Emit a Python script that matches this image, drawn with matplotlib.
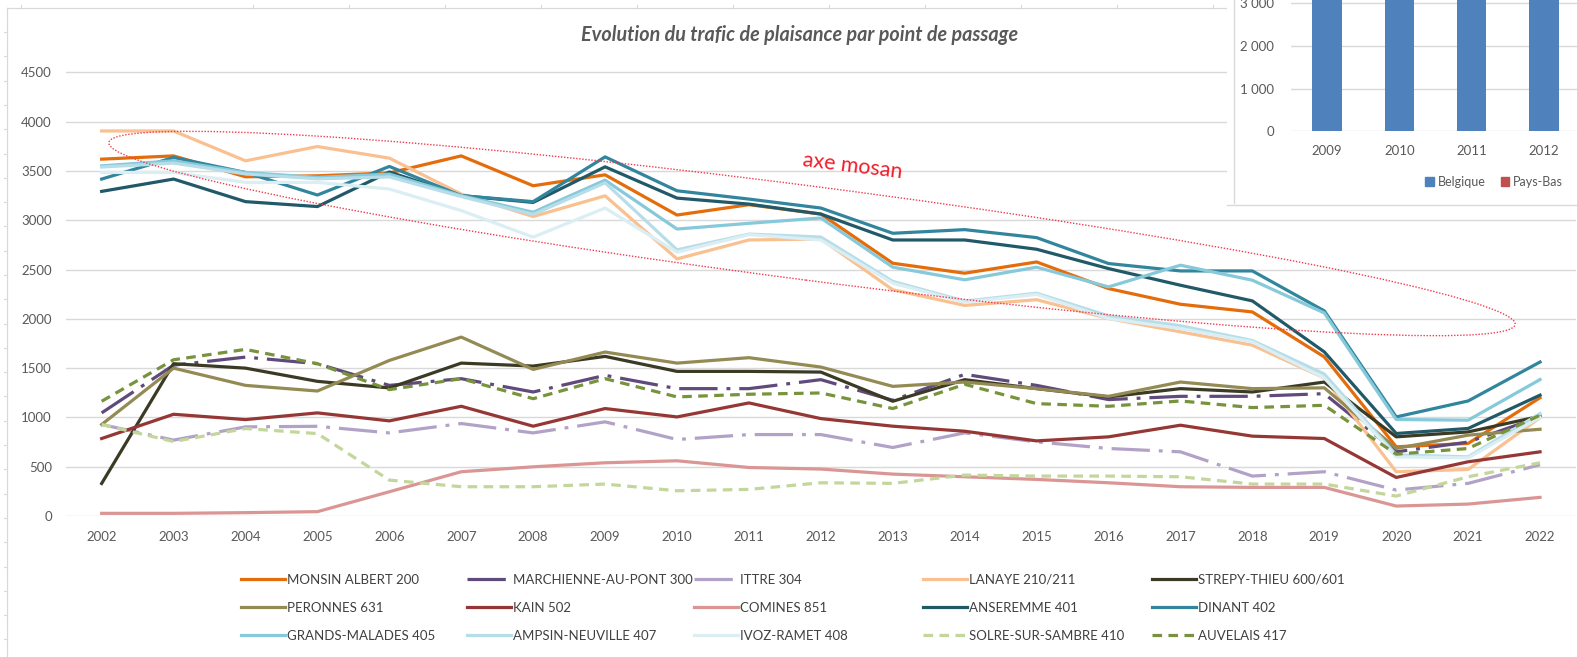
import matplotlib
matplotlib.use('Agg')
import matplotlib.pyplot as plt
from matplotlib.patches import Ellipse, Rectangle, Patch
from matplotlib.lines import Line2D
from matplotlib.transforms import IdentityTransform
import numpy as np

plt.rcParams['font.family'] = ['Lato', 'DejaVu Sans']

# ---------------- data ----------------
years = list(range(2002, 2023))

monsin_albert = [3620, 3653, 3441, 3451, 3480, 3653, 3350, 3461, 3053, 3158, 3063,
                 2564, 2463, 2577, 2307, 2148, 2070, 1614, 702, 736, 1200]
marchienne = [1046, 1530, 1612, 1545, 1325, 1393, 1258, 1427, 1292, 1292, 1383,
              1174, 1437, 1325, 1181, 1214, 1214, 1241, 651, 750, 1005]
ittre = [928, 770, 904, 910, 843, 938, 843, 955, 776, 826, 826,
         695, 843, 752, 685, 651, 405, 449, 263, 331, 520]
lanaye = [3906, 3906, 3603, 3748, 3630, 3266, 3038, 3248, 2608, 2800, 2810,
          2295, 2136, 2194, 2003, 1868, 1733, 1400, 449, 472, 998]
strepy_thieu = [330, 1545, 1500, 1366, 1299, 1551, 1521, 1619, 1467, 1467, 1460,
                1164, 1383, 1292, 1208, 1292, 1258, 1359, 803, 853, 1012]
peronnes = [928, 1500, 1325, 1268, 1578, 1815, 1487, 1663, 1551, 1606, 1511,
            1315, 1359, 1292, 1214, 1359, 1292, 1300, 685, 820, 880]
kain = [786, 1032, 978, 1046, 965, 1113, 911, 1090, 1005, 1147, 988,
        911, 860, 762, 803, 921, 810, 786, 391, 550, 651]
comines = [27, 27, 34, 44, 246, 449, 499, 540, 560, 492, 476,
           425, 398, 371, 337, 297, 290, 290, 101, 121, 189]
anseremme = [3293, 3418, 3189, 3139, 3490, 3250, 3181, 3542, 3225, 3164, 3063,
             2800, 2800, 2706, 2510, 2341, 2182, 1665, 837, 888, 1226]
dinant = [3418, 3637, 3485, 3256, 3546, 3250, 3189, 3643, 3299, 3215, 3124,
          2868, 2905, 2824, 2561, 2486, 2486, 2081, 1005, 1167, 1562]
grands_malades = [3552, 3603, 3485, 3435, 3468, 3250, 3081, 3407, 2911, 2969, 3023,
                  2524, 2396, 2524, 2324, 2544, 2392, 2060, 979, 972, 1384]
ampsin_neuville = [3540, 3580, 3470, 3420, 3440, 3240, 3060, 3380, 2700, 2860, 2830,
                   2380, 2180, 2260, 2030, 1930, 1780, 1440, 620, 600, 1040]
ivoz_ramet = [3485, 3485, 3384, 3384, 3317, 3098, 2829, 3124, 2676, 2854, 2800,
              2362, 2170, 2248, 2003, 1902, 1766, 1400, 600, 590, 1000]
solre = [928, 755, 887, 836, 364, 297, 297, 324, 256, 270, 337,
         331, 415, 405, 405, 398, 324, 324, 202, 398, 540]
auvelais = [1164, 1585, 1690, 1545, 1282, 1393, 1190, 1393, 1208, 1235, 1248,
            1090, 1336, 1140, 1113, 1167, 1100, 1123, 627, 685, 1022]

labels = ["MONSIN ALBERT 200", "MARCHIENNE-AU-PONT 300", "ITTRE 304", "LANAYE 210/211",
          "STREPY-THIEU 600/601", "PERONNES 631", "KAIN 502", "COMINES 851",
          "ANSEREMME 401", "DINANT 402", "GRANDS-MALADES 405", "AMPSIN-NEUVILLE 407",
          "IVOZ-RAMET 408", "SOLRE-SUR-SAMBRE 410", "AUVELAIS 417"]
values = [monsin_albert, marchienne, ittre, lanaye, strepy_thieu, peronnes, kain, comines,
          anseremme, dinant, grands_malades, ampsin_neuville, ivoz_ramet, solre, auvelais]

# inset chart data
inset_years = ["2009", "2010", "2011", "2012"]
belgique = [3900, 3850, 3800, 3750]
pays_bas = [600, 580, 560, 540]

# ---------------- styles ----------------
dashdot = (0, (12, 2.8, 1.2, 2.8))
dashed = (0, (3.0, 2.0))
styles = [
    ('#E46C0A', '-'), ('#604A7B', dashdot), ('#B3A2C7', dashdot), ('#FAC090', '-'),
    ('#3B3A24', '-'), ('#948A54', '-'), ('#953735', '-'), ('#DA9694', '-'),
    ('#215968', '-'), ('#31859C', '-'), ('#86C9DA', '-'), ('#B7DEE8', '-'),
    ('#DAEEF3', '-'), ('#C3D69B', dashed), ('#77933C', dashed),
]

W, H = 1577, 657
fig = plt.figure(figsize=(W / 100, H / 100), dpi=100)
fig.patch.set_facecolor('white')

def fx(x):
    return x / W

def fy(y):
    return 1 - y / H

# background frame lines (faint)
fig.add_artist(Line2D([fx(7), fx(7)], [0, fy(8)], color='#D9D9D9', lw=0.9))
fig.add_artist(Line2D([fx(7), fx(1227)], [fy(8), fy(8)], color='#D9D9D9', lw=0.9))
for ty in np.arange(32, 657, 24.3):
    fig.add_artist(Line2D([fx(4), fx(7)], [fy(ty), fy(ty)], color='#D9D9D9', lw=0.8))
for tx in [21, 253, 349, 445, 541, 637, 733, 829, 925, 1021, 1117, 1213]:
    fig.add_artist(Line2D([fx(tx), fx(tx)], [fy(8), fy(5)], color='#D9D9D9', lw=0.8))

# ---------------- main axes ----------------
y0_px, per_unit = 516.0, 443.6 / 4500
ymax = 4510
ax_left, ax_right = 65.7, 1576.0
ax = fig.add_axes([fx(ax_left), fy(y0_px), (ax_right - ax_left) / W, ymax * per_unit / H])
ax.set_facecolor('none')
x = np.arange(len(years))
handles = []
for lab, vals, (col, ls) in zip(labels, values, styles):
    ln, = ax.plot(x, vals, color=col, lw=2.3, ls=ls, solid_joinstyle='round',
                  dash_capstyle='butt', label=lab, zorder=3)
    handles.append(ln)
ax.set_xlim(-0.5, len(years) - 0.5)
ax.set_ylim(0, ymax)
ax.set_yticks(range(0, 4501, 500))
ax.set_xticks(x)
ax.set_xticklabels([str(y) for y in years])
ax.grid(axis='y', color='#D9D9D9', lw=1.0)
ax.grid(axis='x', visible=False)
ax.set_axisbelow(True)
for s in ax.spines.values():
    s.set_visible(False)
ax.tick_params(axis='both', length=0, colors='#595959', labelsize=9.5)
ax.tick_params(axis='y', pad=10)
ax.tick_params(axis='x', pad=11)

# title
fig.text(fx(800), fy(35), "Evolution du trafic de plaisance par point de passage",
         ha='center', va='center', fontsize=14.2, fontweight='bold', fontstyle='italic',
         color='#595959')

# axe mosan ellipse (pixel coordinates)
ell = Ellipse((812, H - 233.5), width=2 * 709, height=2 * 47, angle=-7.37,
              transform=IdentityTransform(), fill=False, edgecolor='#F23A4C',
              lw=1.0, linestyle=(0, (1, 1.2)), zorder=4)
fig.add_artist(ell)
fig.text(fx(852), fy(166), "axe mosan", color='#F01E2C', fontsize=15.5,
         rotation=-7, ha='center', va='center', rotation_mode='anchor')

# ---------------- legend (5 columns x 3 rows) ----------------
col_x = [241, 467, 694, 923, 1152]
for c in range(5):
    idx = [c, c + 5, c + 10]
    fig.legend([handles[i] for i in idx], [labels[i] for i in idx],
               loc='upper left', bbox_to_anchor=(fx(col_x[c]), fy(574)),
               frameon=False, fontsize=9.5, handlelength=3.3, handletextpad=0.2,
               labelspacing=1.2, borderpad=0, borderaxespad=0,
               labelcolor='#404040')

# ---------------- inset chart ----------------
fig.add_artist(Rectangle((1227, H - 205), 360, 210, transform=IdentityTransform(),
                         facecolor='white', edgecolor='none', zorder=5))
fig.add_artist(Line2D([1234, 1234], [H - 203, H + 2], transform=IdentityTransform(),
                      color='#D9D9D9', lw=1.0, zorder=6))
fig.add_artist(Line2D([1227, 1580], [H - 205, H - 205], transform=IdentityTransform(),
                      color='#D9D9D9', lw=1.0, zorder=6))

inset_per = 42.5 / 1000
ax2 = fig.add_axes([fx(1291), fy(131), (1580 - 1291) / W, 131 / H])
ax2.set_zorder(7)
ax2.set_facecolor('none')
xi = np.arange(len(inset_years))
ax2.bar(xi, belgique, width=0.41, color='#4F81BD', label='Belgique', zorder=3)
ax2.bar(xi, pays_bas, width=0.41, bottom=belgique, color='#C0504D', label='Pays-Bas', zorder=3)
ax2.set_xlim(-0.5, 3.5)
ax2.set_ylim(0, 131 / inset_per)
ax2.set_yticks([0, 1000, 2000, 3000])
ax2.set_yticklabels(["0", "1 000", "2 000", "3 000"])
ax2.set_xticks(xi)
ax2.set_xticklabels(inset_years)
ax2.grid(axis='y', color='#D9D9D9', lw=1.0)
ax2.grid(axis='x', visible=False)
ax2.set_axisbelow(True)
for s in ax2.spines.values():
    s.set_visible(False)
ax2.tick_params(axis='both', length=0, colors='#595959', labelsize=9.5)
ax2.tick_params(axis='y', pad=12)
ax2.tick_params(axis='x', pad=10)

leg2 = fig.legend([Patch(color='#4F81BD'), Patch(color='#C0504D')], ['Belgique', 'Pays-Bas'],
                  loc='center', bbox_to_anchor=(fx(1494), fy(182)), ncol=2, frameon=False,
                  fontsize=9, handlelength=0.7, handleheight=0.7, handletextpad=0.3,
                  columnspacing=1.2, labelcolor='#595959')
leg2.set_zorder(8)

fig.savefig('out.png', dpi=100, facecolor='white')
